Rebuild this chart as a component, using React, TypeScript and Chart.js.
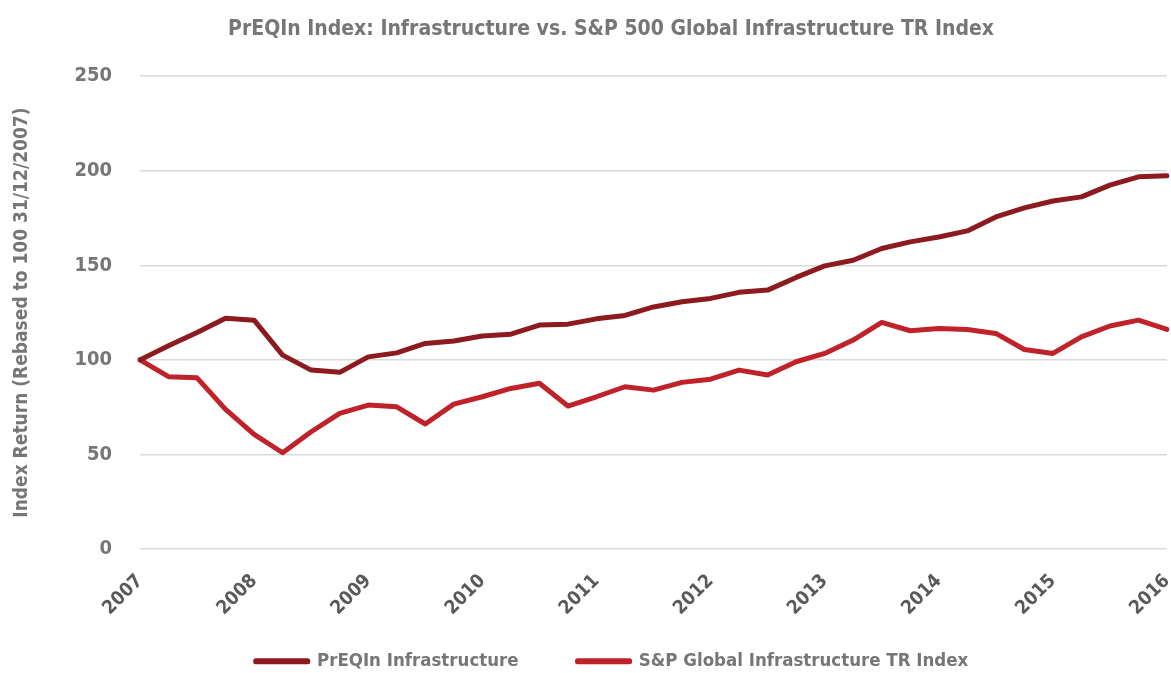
import React, { useEffect, useRef } from "react";
import { Chart, registerables } from "chart.js";

Chart.register(...registerables);

const quarterCategories = [
  "2007", "2007 Q2", "2007 Q3", "2007 Q4",
  "2008", "2008 Q2", "2008 Q3", "2008 Q4",
  "2009", "2009 Q2", "2009 Q3", "2009 Q4",
  "2010", "2010 Q2", "2010 Q3", "2010 Q4",
  "2011", "2011 Q2", "2011 Q3", "2011 Q4",
  "2012", "2012 Q2", "2012 Q3", "2012 Q4",
  "2013", "2013 Q2", "2013 Q3", "2013 Q4",
  "2014", "2014 Q2", "2014 Q3", "2014 Q4",
  "2015", "2015 Q2", "2015 Q3", "2015 Q4",
  "2016",
];

const yearLabels = ["2007", "2008", "2009", "2010", "2011", "2012", "2013", "2014", "2015", "2016"];

const preqinInfrastructure = [
  100, 107.5, 114.5, 122, 121, 102.5, 94.6, 93.4,
  101.6, 103.7, 108.7, 110, 112.6, 113.6, 118.4, 118.9,
  121.7, 123.5, 128, 130.7, 132.5, 135.7, 136.9, 143.6,
  149.7, 152.7, 158.9, 162.4, 165, 168.2, 175.6, 180.4,
  184, 186.2, 192.4, 196.8, 197.3,
];

const spGlobalInfrastructure = [
  100, 91.1, 90.5, 73.8, 60.6, 50.9, 62, 71.7,
  76.1, 75.2, 66.1, 76.6, 80.5, 84.9, 87.6, 75.6,
  80.5, 85.8, 84, 88.1, 89.8, 94.6, 92, 99,
  103.4, 110.5, 119.8, 115.4, 116.6, 116.1, 114, 105.5,
  103.4, 112.2, 117.9, 121, 116.1,
];

const yTicks = [0, 50, 100, 150, 200, 250];

const seriesNames = ["PrEQIn Infrastructure", "S&P Global Infrastructure TR Index"];
const chartTitle = "PrEQIn Index: Infrastructure vs. S&P 500 Global Infrastructure TR Index";
const yAxisTitle = "Index Return (Rebased to 100 31/12/2007)";

const FONT = "'Liberation Sans Narrow', 'DejaVu Sans Condensed', 'Roboto Condensed', sans-serif";
const DARK = "#8c1a1f";
const RED = "#c0222a";
const GRAY = "#767676";

const X_AXIS_HEIGHT = 75;
const Y_AXIS_WIDTH = 129;
const LEGEND_LIFT = 31;

export default function App() {
  const canvasRef = useRef<HTMLCanvasElement | null>(null);

  useEffect(() => {
    if (!canvasRef.current) return;
    const shiftPlugin = {
      id: "shiftBlocks",
      afterLayout(chart: any) {
        if (chart.titleBlock) {
          chart.titleBlock.left += 44;
        }
        if (chart.legend) {
          chart.legend.left += 46;
          chart.legend.top -= LEGEND_LIFT;
          chart.legend.bottom -= LEGEND_LIFT;
        }
      },
    };
    const chart = new Chart(canvasRef.current, {
      type: "line",
      data: {
        labels: quarterCategories,
        datasets: [
          {
            label: seriesNames[0],
            data: preqinInfrastructure,
            borderColor: DARK,
            backgroundColor: DARK,
            borderWidth: 5,
            pointRadius: 0,
            tension: 0,
            borderCapStyle: "round",
            borderJoinStyle: "round",
          },
          {
            label: seriesNames[1],
            data: spGlobalInfrastructure,
            borderColor: RED,
            backgroundColor: RED,
            borderWidth: 5,
            pointRadius: 0,
            tension: 0,
            borderCapStyle: "round",
            borderJoinStyle: "round",
          },
        ],
      },
      options: {
        animation: false,
        responsive: true,
        maintainAspectRatio: false,
        layout: { padding: { left: 11, right: 4, top: 0, bottom: -38.5 } },
        plugins: {
          title: {
            display: true,
            text: chartTitle,
            color: GRAY,
            font: { family: FONT, size: 21, weight: "bold" },
            padding: { top: 17, bottom: 34 },
          },
          legend: {
            display: true,
            position: "bottom",
            labels: {
              color: GRAY,
              font: { family: FONT, size: 18.5, weight: "bold" },
              boxWidth: 52,
              boxHeight: 1,
              padding: 59,
            },
          },
          tooltip: { enabled: false },
        },
        scales: {
          x: {
            type: "category",
            offset: false,
            grid: { display: false },
            border: { display: false },
            afterFit: (scale: any) => {
              scale.height = X_AXIS_HEIGHT;
              scale.paddingLeft = 0;
              scale.paddingRight = 0;
            },
            ticks: {
              autoSkip: false,
              maxRotation: 45,
              minRotation: 45,
              color: "#595959",
              font: { family: FONT, size: 19, weight: "bold" },
              padding: 13,
              callback: function (this: any, value: any) {
                const lbl = quarterCategories[value as number];
                return yearLabels.includes(lbl) ? lbl : "";
              },
            },
          },
          y: {
            min: 0,
            max: 250,
            afterBuildTicks: (axis: any) => {
              axis.ticks = yTicks.map((v) => ({ value: v }));
            },
            afterFit: (scale: any) => {
              scale.width = Y_AXIS_WIDTH;
            },
            grid: { color: "#d9d9d9", lineWidth: 1.5, drawTicks: false },
            border: { display: false },
            ticks: {
              color: GRAY,
              font: { family: FONT, size: 20, weight: "bold" },
              padding: 28,
            },
            title: {
              display: true,
              text: yAxisTitle,
              color: GRAY,
              font: { family: FONT, size: 19, weight: "bold" },
              padding: { top: 0, bottom: 0 },
            },
          },
        },
      },
      plugins: [shiftPlugin],
    });
    return () => chart.destroy();
  }, []);

  return (
    <div style={{ position: "fixed", left: 0, top: 0, width: 1171, height: 673, background: "#fff" }}>
      <canvas ref={canvasRef} />
    </div>
  );
}
